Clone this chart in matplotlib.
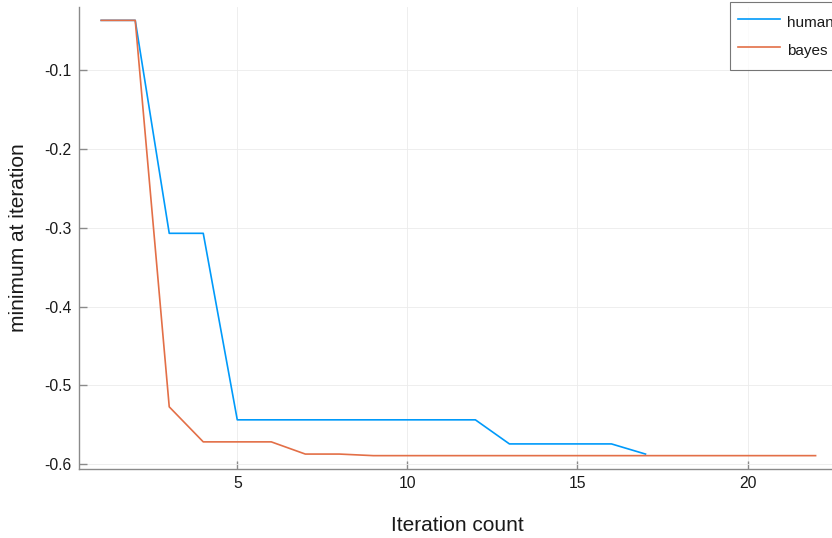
import matplotlib
matplotlib.use("Agg")
import matplotlib.pyplot as plt
import numpy as np

plt.rcParams['font.family'] = ['Liberation Sans', 'DejaVu Sans']

iterations_human = list(range(1, 18))
human = [-0.0364, -0.0364, -0.307, -0.307, -0.544, -0.544, -0.544, -0.544,
         -0.544, -0.544, -0.544, -0.544, -0.5746, -0.5746, -0.5746, -0.5746,
         -0.5875]
iterations_bayes = list(range(1, 23))
bayes = [-0.0364, -0.0364, -0.5275, -0.572, -0.572, -0.572, -0.5875, -0.5875,
         -0.5895, -0.5895, -0.5895, -0.5895, -0.5895, -0.5895, -0.5895, -0.5895,
         -0.5895, -0.5895, -0.5895, -0.5895, -0.5895, -0.5895]
series_names = ["human", "bayes"]
series_colors = ["#009AFA", "#E36F47"]
xticks = [5, 10, 15, 20]
yticks = [-0.1, -0.2, -0.3, -0.4, -0.5, -0.6]

fig = plt.figure(figsize=(8.32, 5.38), dpi=100)
ax = fig.add_axes([78.7/832, 1 - 468.7/538, (837 - 78.7)/832, (468.7 - 7.3)/538])

ax.plot(iterations_human, human, color=series_colors[0], lw=1.2, label=series_names[0])
ax.plot(iterations_bayes, bayes, color=series_colors[1], lw=1.2, label=series_names[1])

allx = iterations_human + iterations_bayes
ally = human + bayes
xr = max(allx) - min(allx)
yr = max(ally) - min(ally)
ax.set_xlim(min(allx) - 0.0315 * xr, max(allx) + 0.03 * xr)
ax.set_ylim(min(ally) - 0.03 * yr, max(ally) + 0.03 * yr)

ax.set_xticks(xticks)
ax.set_yticks(yticks)
ax.set_yticklabels([f"{v:.1f}" for v in yticks])
ax.grid(True, color='#ebebeb', lw=0.6)
ax.set_axisbelow(True)
for s in ['top', 'right']:
    ax.spines[s].set_visible(False)
for s in ['left', 'bottom']:
    ax.spines[s].set_color('#8a8a8a')
    ax.spines[s].set_linewidth(1.0)
ax.tick_params(direction='in', length=6, width=1, color='#8a8a8a',
               labelsize=11.3, labelcolor='#1a1a1a', pad=5)

ax.set_xlabel("Iteration count", fontsize=15, color='#1a1a1a', labelpad=18)
ax.set_ylabel("minimum at iteration", fontsize=15, color='#1a1a1a', labelpad=12)

leg = fig.legend(loc='upper left', bbox_to_anchor=(730/832, 1 - 2/538),
                 bbox_transform=fig.transFigure, fontsize=11, frameon=True,
                 fancybox=False, borderpad=0.55, handlelength=2.75,
                 handleheight=1.96, labelspacing=0.33, handletextpad=0.46,
                 borderaxespad=0)
leg.get_frame().set_edgecolor('#555555')
leg.get_frame().set_linewidth(0.8)
for t in leg.get_texts():
    t.set_color('#1a1a1a')

fig.savefig("out.png", dpi=100)
